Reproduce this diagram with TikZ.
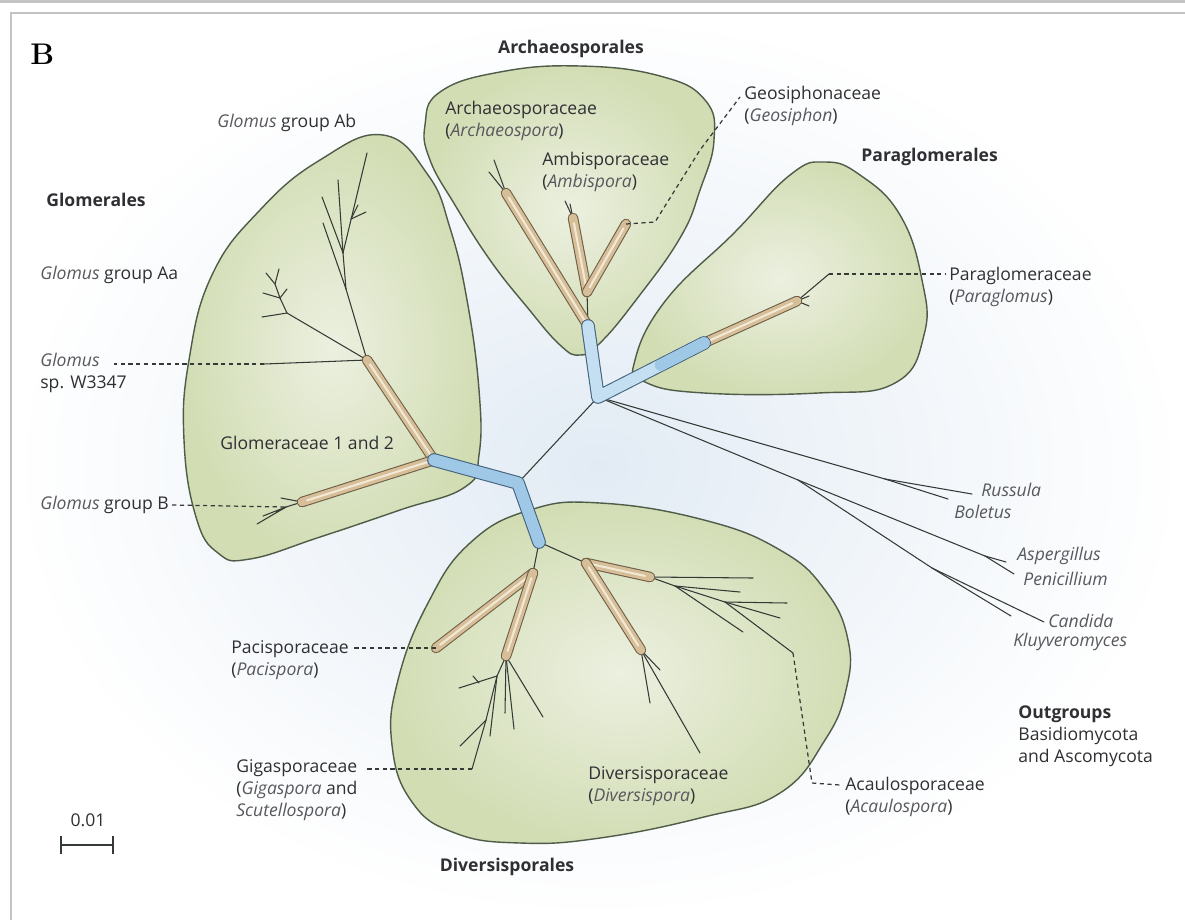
\documentclass[tikz,border=0pt]{standalone}
\usepackage{fontspec}
\setsansfont{Open Sans}
\usepackage{tikz}

\definecolor{bgblue}{RGB}{226,235,244}
\definecolor{framecol}{RGB}{195,195,195}
\definecolor{blobin}{RGB}{236,240,224}
\definecolor{blobout}{RGB}{210,221,180}
\definecolor{blobline}{RGB}{78,92,72}
\definecolor{branchcol}{RGB}{52,58,54}
\definecolor{tanfill}{RGB}{214,190,152}
\definecolor{tanlight}{RGB}{242,232,214}
\definecolor{tanline}{RGB}{110,94,70}
\definecolor{bluefill}{RGB}{158,200,230}
\definecolor{bluelight}{RGB}{196,222,242}
\definecolor{blueline}{RGB}{66,98,124}
\definecolor{txt}{RGB}{48,48,52}
\definecolor{ital}{RGB}{88,88,94}

\newcommand\gen[1]{\textit{\color{ital}#1}}

\begin{document}
\begin{tikzpicture}[x=0.02cm,y=-0.02cm,
  blob/.style={draw=blobline, line width=0.8pt, inner color=blobin, outer color=blobout},
  branch/.style={draw=branchcol, line width=0.6pt, line cap=round},
  tanbar/.style={draw=tanline, line width=0.6pt, double=tanfill, double distance=4.8pt, line cap=round},
  tanhi/.style={draw=tanlight, line width=1.2pt, line cap=round, shorten <=3pt, shorten >=3pt},
  bluebar/.style={draw=blueline, line width=0.6pt, double=bluefill, double distance=6.6pt, line cap=round, line join=round},
  leader/.style={draw=branchcol, line width=0.7pt, dash pattern=on 2.4pt off 2pt},
  lab/.style={font=\sffamily\fontsize{10}{12.5}\selectfont, text=txt, inner sep=0pt, anchor=west, align=left},
  order/.style={font=\sffamily\bfseries\fontsize{10}{12.5}\selectfont, text=txt, inner sep=0pt}
]
\useasboundingbox (0,0) rectangle (1185,920);

% panel and frame
\shade[inner color=bgblue, outer color=white] (11,13) rectangle (1185,920);
\draw[framecol, line width=1.5pt] (0,1.5) -- (1185,1.5);
\draw[framecol, line width=0.6pt] (11,920) -- (11,13) -- (1185,13);

% the four orders
\shadedraw[blob] plot[smooth cycle, tension=0.75] coordinates {
  (383,135) (428,175) (450,228) (467,300) (479,390) (479,455) (465,487)
  (400,510) (320,537) (250,559) (218,553) (196,517) (184,440) (189,360)
  (212,275) (260,210) (320,160)};
\shadedraw[blob] plot[smooth cycle, tension=0.75] coordinates {
  (425,125) (440,92) (500,72) (580,66) (660,76) (705,100) (714,140) (700,190)
  (680,238) (636,300) (600,343) (580,355) (560,345) (527,307) (490,260)
  (455,205) (430,160)};
\shadedraw[blob] plot[smooth cycle, tension=0.75] coordinates {
  (825,162) (860,175) (900,215) (922,280) (924,335) (895,383) (818,393)
  (704,393) (645,382) (635,360) (666,300) (734,233) (790,175)};
\shadedraw[blob] plot[smooth cycle, tension=0.75] coordinates {
  (600,503) (704,520) (780,550) (825,590) (848,640) (846,690) (825,740)
  (780,793) (704,817) (600,838) (520,843) (455,833) (412,802) (392,745)
  (398,680) (428,603) (470,543) (530,510)};

% backbone
\coordinate (g0) at (434,460);
\coordinate (c0) at (518,483);
\coordinate (d0) at (539,542);
\coordinate (v0) at (598,397);
\coordinate (a0) at (588,326);
\coordinate (p0) at (704,343);

% Glomerales
\coordinate (gw) at (367,360);
\coordinate (w3) at (264,364);
\coordinate (w3l) at (114,364);
\coordinate (ab1) at (346,289);
\coordinate (ab2) at (343,253);
\coordinate (ab3) at (351,219);
\coordinate (abl1) at (323,223);
\coordinate (abl2) at (367,153);
\coordinate (abl3) at (338,180);
\coordinate (abl4) at (322,197);
\coordinate (abl5) at (366,212);
\coordinate (abl6) at (358,205);
\coordinate (aa1) at (287,313);
\coordinate (aa2) at (280,298);
\coordinate (aa3) at (275,284);
\coordinate (aal1) at (262,317);
\coordinate (aal2) at (263,293);
\coordinate (aal3) at (266,273);
\coordinate (aal4) at (279,269);
\coordinate (aal5) at (287,289);
\coordinate (gb) at (302,502);
\coordinate (gb1) at (286,507);
\coordinate (gbl1) at (257,524);
\coordinate (gbl2) at (263,516);
\coordinate (gbl3) at (281,498);
\coordinate (gbl4) at (276,512);

% Archaeosporales
\coordinate (arc) at (506,193);
\coordinate (arl1) at (489,172);
\coordinate (arl2) at (494,160);
\coordinate (amb) at (587,292);
\coordinate (ambt) at (573,218);
\coordinate (aml1) at (565,201);
\coordinate (aml2) at (570,204);
\coordinate (geo) at (626,224);
\coordinate (gd1) at (655,222);
\coordinate (gd2) at (700,150);
\coordinate (gd3) at (740,97);

% Paraglomerales
\coordinate (pg) at (797,301);
\coordinate (pgl1) at (809,296);
\coordinate (pgl2) at (809,306);
\coordinate (pt) at (829,274);
\coordinate (ptl) at (946,274);

% Diversisporales
\coordinate (dp) at (533,573);
\coordinate (pac) at (436,648);
\coordinate (pacl) at (354,648);
\coordinate (gg) at (506,656);
\coordinate (gg1) at (497,676);
\coordinate (gg2) at (486,720);
\coordinate (gl1) at (459,688);
\coordinate (gl2) at (472,769);
\coordinate (gil) at (367,769);
\coordinate (gl3) at (460,746);
\coordinate (gl4) at (505,713);
\coordinate (gl5) at (514,729);
\coordinate (gl6) at (543,717);
\coordinate (gl7) at (490,736);
\coordinate (gf1) at (479,683);
\coordinate (gf2) at (473,676);
\coordinate (de) at (586,563);
\coordinate (aca) at (650,577);
\coordinate (div) at (641,650);
\coordinate (dvl1) at (660,670);
\coordinate (dvl2) at (650,703);
\coordinate (dvl3) at (700,753);
\coordinate (ac1) at (675,586);
\coordinate (ac2) at (725,602);
\coordinate (acl1) at (753,578);
\coordinate (acl2) at (740,592);
\coordinate (acl3) at (743,632);
\coordinate (acl4) at (787,603);
\coordinate (acl5) at (780,618);
\coordinate (acl6) at (793,653);
\coordinate (acd) at (812,783);
\coordinate (acdl) at (840,785);

% outgroups
\coordinate (ob) at (885,479);
\coordinate (oa) at (798,480);
\coordinate (oa1) at (985,556);
\coordinate (oa2) at (932,568);
\coordinate (rus) at (972,494);
\coordinate (bol) at (948,499);
\coordinate (asp) at (1006,562);
\coordinate (pen) at (1014,574);
\coordinate (can) at (1044,622);
\coordinate (klu) at (1011,616);

% thin branches
\foreach \a/\b in {c0/v0, v0/ob, ob/rus, ob/bol, v0/oa, oa/oa1, oa1/asp, oa1/pen,
  oa/oa2, oa2/can, oa2/klu,
  gw/w3, gw/ab1, ab1/abl1, ab1/ab2, ab2/abl2, ab2/abl3, ab2/abl4, ab3/abl5, ab3/abl6,
  gw/aa1, aa1/aal1, aa1/aa2, aa2/aal2, aa2/aa3, aa3/aal3, aa3/aal4, aa2/aal5,
  gb/gb1, gb1/gbl1, gb1/gbl2, gb/gbl3, gb1/gbl4,
  arc/arl1, arc/arl2, a0/amb, ambt/aml1, ambt/aml2,
  pg/pgl1, pg/pgl2, pg/pt,
  d0/dp, gg/gg1, gg1/gl1, gf1/gf2, gg1/gg2, gg2/gl2, gg2/gl3, gg1/gl7,
  gg/gl4, gg/gl5, gg/gl6,
  d0/de, div/dvl1, div/dvl2, div/dvl3,
  aca/acl1, aca/ac1, ac1/acl2, ac1/acl3, ac1/ac2, ac2/acl4, ac2/acl5, ac2/acl6}
  \draw[branch] (\a) -- (\b);

% tan family bars
\foreach \a/\b in {g0/gw, g0/gb, a0/arc, amb/ambt, amb/geo, p0/pg,
  dp/pac, dp/gg, de/aca, de/div}
  {\draw[tanbar] (\a) -- (\b);
   \draw[tanhi] (\a) -- (\b);}

% blue order bars
\draw[bluebar] (g0) -- (c0) -- (d0);
\draw[bluebar, double=bluelight] (a0) -- (v0) -- (p0);
\draw[draw=bluefill, line width=6.6pt, line cap=round, shorten <=40pt] (v0) -- (p0);

% leaders
\draw[leader] (w3) -- (w3l);
\draw[leader] (geo) -- (gd1) -- (gd2) -- (gd3);
\draw[leader] (pt) -- (ptl);
\draw[leader] (pac) -- (pacl);
\draw[leader] (gl2) -- (gil);
\draw[leader] (acl6) -- (acd) -- (acdl);

% labels
\node[anchor=west, inner sep=0pt, text=black, font=\rmfamily\bfseries\fontsize{17}{19}\selectfont] (lb) at (30,54) {B};
\node[order] (larch) at (571,49) {Archaeosporales};
\node[order, anchor=west] (lglo) at (46,200) {Glomerales};
\node[order, anchor=west] (lpara) at (861,157) {Paraglomerales};
\node[order] (ldiv) at (507,867) {Diversisporales};
\node[lab] (lab) at (217,123) {\gen{Glomus} group Ab};
\node[lab] (laa) at (40,275) {\gen{Glomus} group Aa};
\node[lab] (lw3) at (40,373) {\gen{Glomus}\\sp. W3347};
\node[lab] (lgl) at (220,443) {Glomeraceae 1 and 2};
\node[lab] (lgb) at (40,505) {\gen{Glomus} group B};
\node[lab] (larc) at (445,121) {Archaeosporaceae\\(\gen{Archaeospora})};
\node[lab] (lamb) at (542,172) {Ambisporaceae\\(\gen{Ambispora})};
\node[lab] (lgeo) at (744,106) {Geosiphonaceae\\(\gen{Geosiphon})};
\node[lab] (lpg) at (949,287) {Paraglomeraceae\\(\gen{Paraglomus})};
\node[lab] (lpac) at (231,660) {Pacisporaceae\\(\gen{Pacispora})};
\node[lab] (lgig) at (236,790) {Gigasporaceae\\(\gen{Gigaspora} and\\\gen{Scutellospora})};
\node[lab] (ldv) at (588,786) {Diversisporaceae\\(\gen{Diversispora})};
\node[lab] (lac) at (845,797) {Acaulosporaceae\\(\gen{Acaulospora})};
\node[lab] (lrus) at (981,490) {\gen{Russula}};
\node[lab] (lbol) at (954,512) {\gen{Boletus}};
\node[lab] (lasp) at (1017,556) {\gen{Aspergillus}};
\node[lab] (lpen) at (1023,579) {\gen{Penicillium}};
\node[lab] (lcan) at (1048,621) {\gen{Candida}};
\node[lab] (lklu) at (1013,642) {\gen{Kluyveromyces}};
\node[lab] (lout) at (1018,736) {\textbf{Outgroups}\\Basidiomycota\\and Ascomycota};
\draw[leader] (lgb.east) ++(3,0) -- (gb1);

% scale bar
\node[lab, anchor=center] (lsc) at (88,820) {0.01};
\coordinate (s1) at (61,845);
\coordinate (s2) at (113,845);
\draw[branchcol, line width=1.2pt] (s1) -- (s2);
\draw[branchcol, line width=1.2pt] (s1) ++(0,-9) -- ++(0,18);
\draw[branchcol, line width=1.2pt] (s2) ++(0,-9) -- ++(0,18);

\end{tikzpicture}
\end{document}
